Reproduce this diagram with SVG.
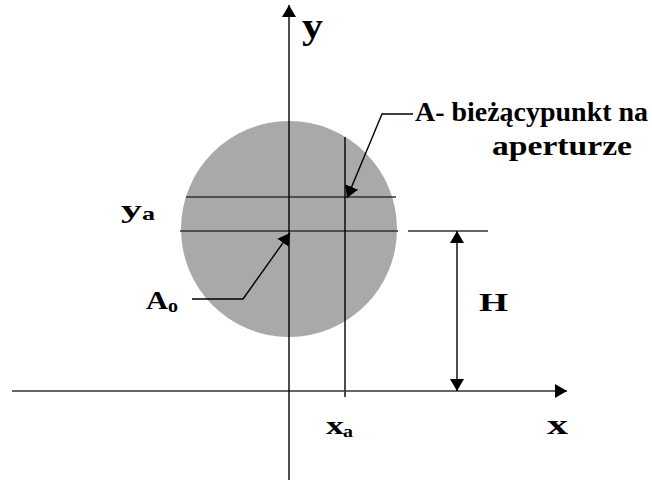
<svg xmlns="http://www.w3.org/2000/svg" width="652" height="488" viewBox="0 0 652 488">
<defs>
<style>
.ln{stroke:#000;stroke-width:1.4;fill:none}
.gl{stroke:#333;stroke-width:1.4;fill:none}
.t{font-family:"Liberation Serif","Times New Roman",serif;font-weight:bold;fill:#000}
</style>
<marker id="ah" viewBox="0 0 12 14" refX="12" refY="7" markerWidth="12" markerHeight="14" markerUnits="userSpaceOnUse" orient="auto">
<path d="M0,0 L12,7 L0,14 Z" fill="#000"/>
</marker>
</defs>
<g id="aperture">
<circle cx="289" cy="229" r="108" fill="#a9a9a9"/>
</g>
<g id="guides">
<line class="gl" x1="186" y1="197" x2="396" y2="197"/>
<line class="gl" x1="180" y1="231" x2="398" y2="231"/>
<line class="ln" x1="345" y1="137" x2="345" y2="397"/>
<line class="gl" x1="408" y1="231" x2="488" y2="231"/>
</g>
<g id="connectors">
<line class="gl" x1="12" y1="391" x2="567" y2="391" marker-end="url(#ah)"/>
<line class="ln" x1="289" y1="480" x2="289" y2="5" marker-end="url(#ah)"/>
<line class="ln" x1="457" y1="311" x2="457" y2="231" marker-end="url(#ah)"/>
<line class="ln" x1="457" y1="311" x2="457" y2="391" marker-end="url(#ah)"/>
<polyline class="ln" points="413,114 382,114 347,198" marker-end="url(#ah)"/>
<polyline class="ln" points="192,299 243,299 290,233" marker-end="url(#ah)"/>
</g>
<g id="labels">
<text class="t" x="302" y="38" font-size="36" textLength="21" lengthAdjust="spacingAndGlyphs">y</text>
<text class="t" x="415" y="121" font-size="27" textLength="233" lengthAdjust="spacingAndGlyphs">A- bieżącypunkt na</text>
<text class="t" x="492" y="155" font-size="28" textLength="140" lengthAdjust="spacingAndGlyphs">aperturze</text>
<text class="t" x="121" y="218" font-size="26" textLength="21" lengthAdjust="spacingAndGlyphs">y</text>
<text class="t" x="142" y="220" font-size="19" textLength="13" lengthAdjust="spacingAndGlyphs">a</text>
<text class="t" x="146" y="309" font-size="26" textLength="22" lengthAdjust="spacingAndGlyphs">A</text>
<text class="t" x="168" y="312" font-size="19" textLength="10" lengthAdjust="spacingAndGlyphs">o</text>
<text class="t" x="479" y="311" font-size="25" textLength="29" lengthAdjust="spacingAndGlyphs">H</text>
<text class="t" x="326" y="434" font-size="26" textLength="18" lengthAdjust="spacingAndGlyphs">x</text>
<text class="t" x="343" y="437" font-size="17" textLength="10" lengthAdjust="spacingAndGlyphs">a</text>
<text class="t" x="547" y="434" font-size="28" textLength="21" lengthAdjust="spacingAndGlyphs">x</text>
</g>
</svg>
